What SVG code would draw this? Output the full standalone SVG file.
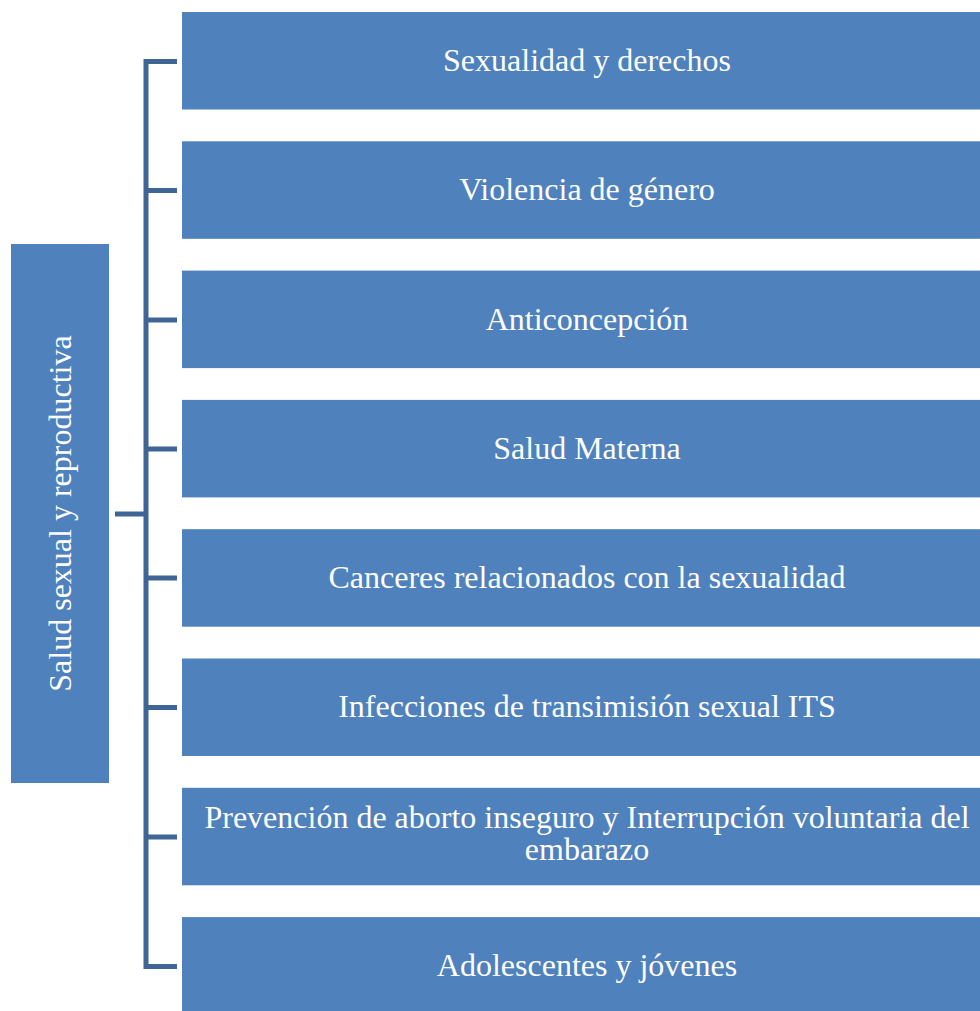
<svg xmlns="http://www.w3.org/2000/svg" width="980" height="1011" viewBox="0 0 980 1011">
<style>
.box{fill:#4F81BD;}
.t{font-family:"Liberation Serif","Times New Roman",serif;font-size:32px;fill:#FFFFFF;text-anchor:middle;}
.ln{fill:none;stroke:#3E6595;stroke-width:5;stroke-linejoin:miter;}
</style>
<rect width="980" height="1011" fill="#FFFFFF"/>
<g id="connectors">
<path class="ln" d="M177,61.5 H146 V966.5 H177"/>
<path class="ln" d="M115,514 H146"/>
<path class="ln" d="M146,190.5 H177 M146,320 H177 M146,449 H177 M146,578 H177 M146,707.5 H177 M146,837 H177"/>
</g>
<g id="root">
<rect class="box" x="11" y="244" width="98" height="539"/>
<text class="t" transform="translate(71,513.5) rotate(-90)" x="0" y="0">Salud sexual y reproductiva</text>
</g>
<g id="n1"><rect class="box" x="182" y="12" width="810" height="97.5"/><text class="t" x="587" y="71">Sexualidad y derechos</text></g>
<g id="n2"><rect class="box" x="182" y="141.3" width="810" height="97.5"/><text class="t" x="587" y="200">Violencia de género</text></g>
<g id="n3"><rect class="box" x="182" y="270.6" width="810" height="97.5"/><text class="t" x="587" y="330">Anticoncepción</text></g>
<g id="n4"><rect class="box" x="182" y="399.9" width="810" height="97.5"/><text class="t" x="587" y="459">Salud Materna</text></g>
<g id="n5"><rect class="box" x="182" y="529.2" width="810" height="97.5"/><text class="t" x="587" y="588">Canceres relacionados con la sexualidad</text></g>
<g id="n6"><rect class="box" x="182" y="658.5" width="810" height="97.5"/><text class="t" x="587" y="717">Infecciones de transimisión sexual ITS</text></g>
<g id="n7"><rect class="box" x="182" y="787.8" width="810" height="97.5"/><text class="t" x="587" y="828"><tspan x="587" y="828">Prevención de aborto inseguro y Interrupción voluntaria del</tspan><tspan x="587" y="860">embarazo</tspan></text></g>
<g id="n8"><rect class="box" x="182" y="917.1" width="810" height="97.5"/><text class="t" x="587" y="976">Adolescentes y jóvenes</text></g>
</svg>
